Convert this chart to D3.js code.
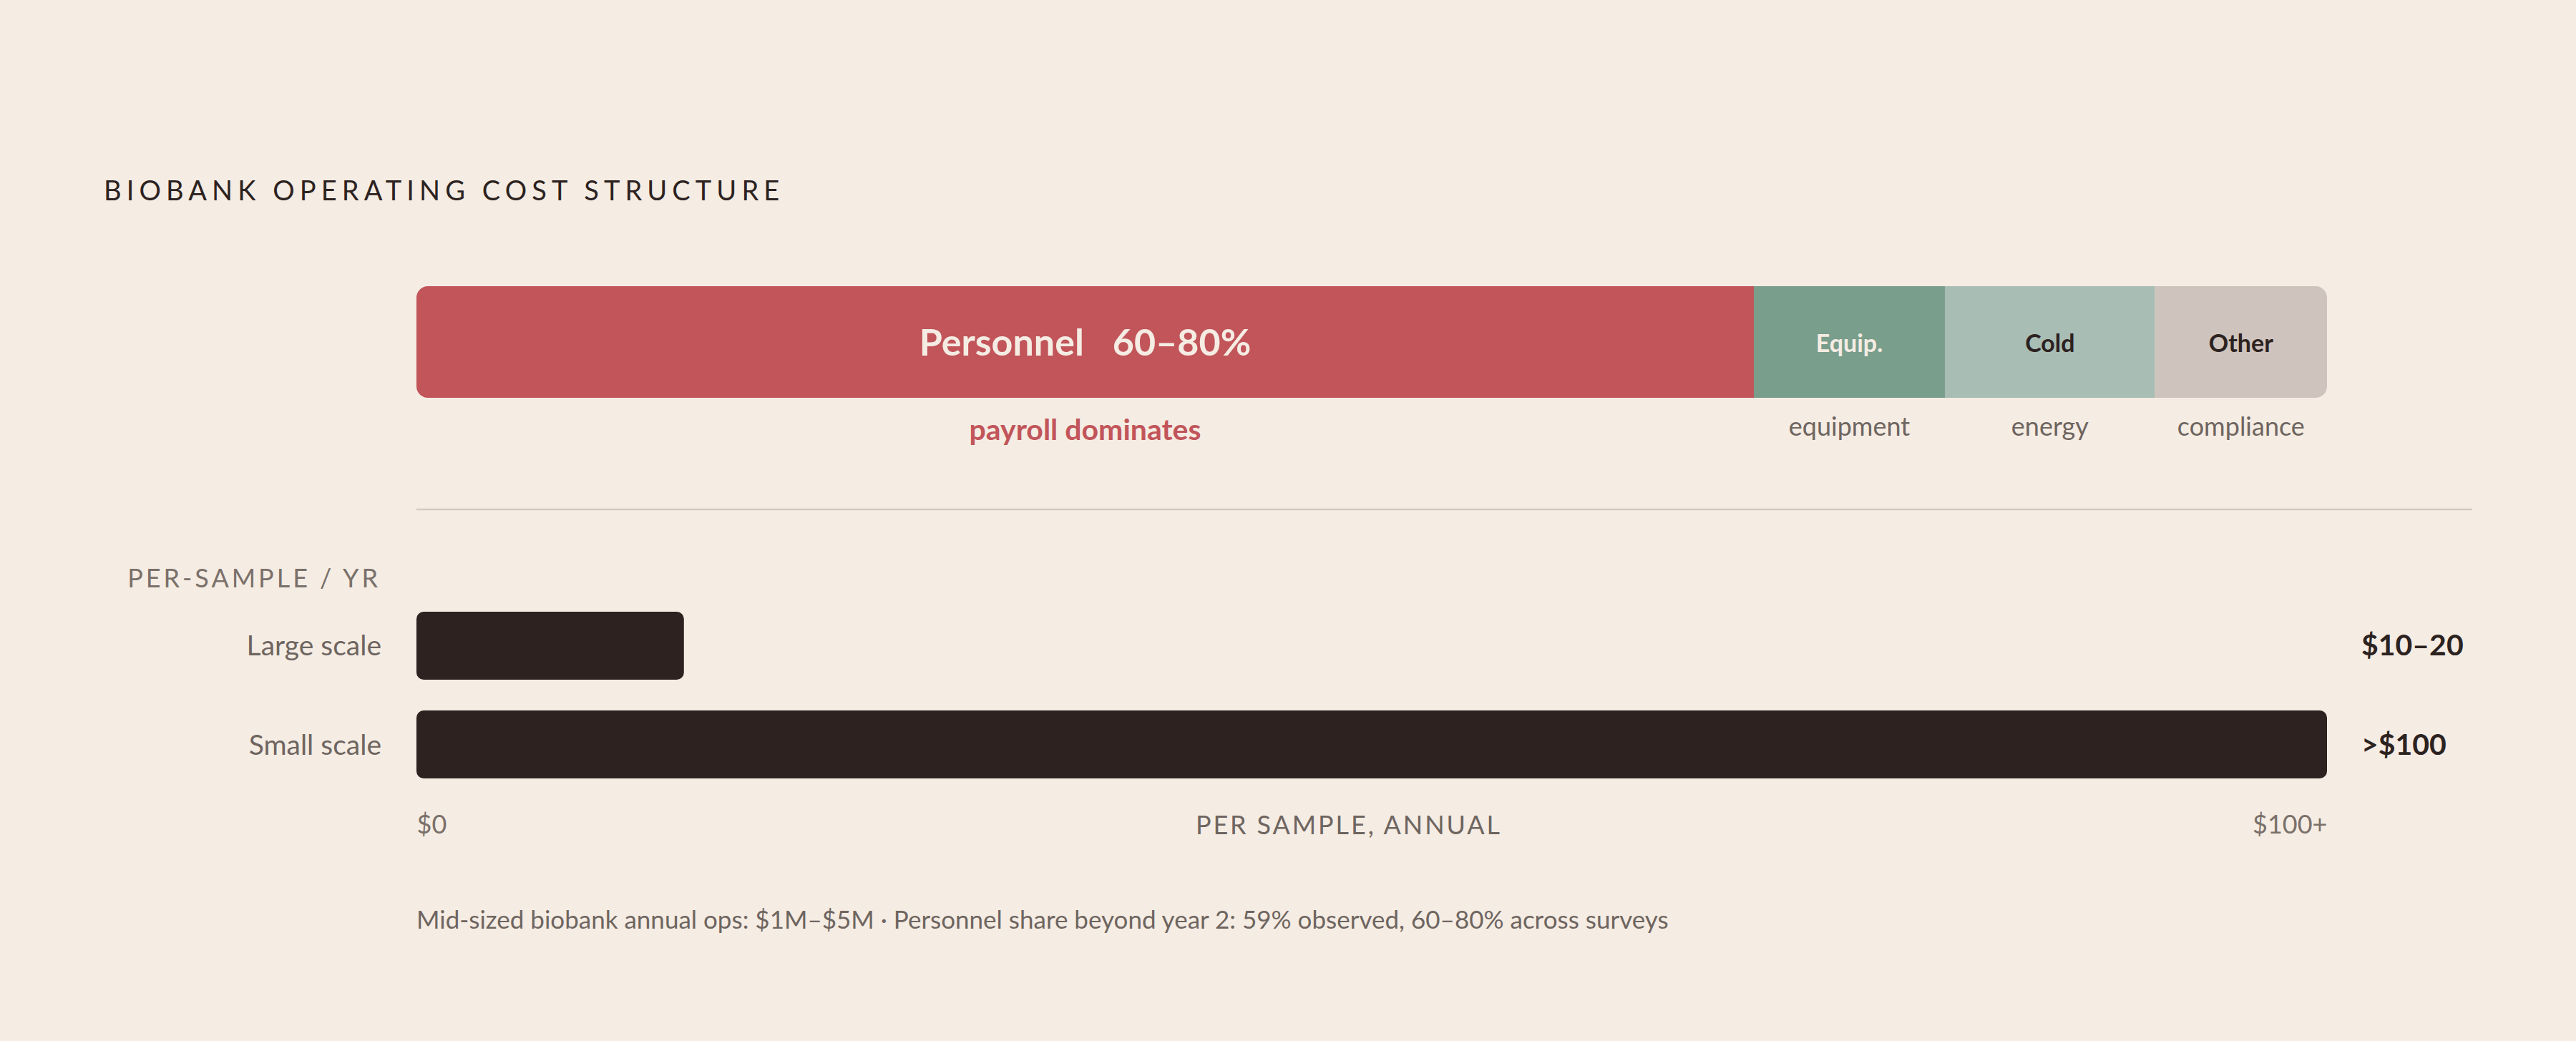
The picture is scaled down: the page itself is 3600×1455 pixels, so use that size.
<!DOCTYPE html>
<html>
<head>
<meta charset="utf-8">
<script src="https://cdn.jsdelivr.net/npm/d3@7"></script>
<style>
  html, body { margin: 0; padding: 0; background: #f5ece3; }
  svg { display: block; font-family: Lato, "Noto Sans", sans-serif; }
</style>
</head>
<body>
<div id="chart"></div>
<script>
// cost structure (share of annual operating budget, %)
var segments = ["Personnel", "Equip.", "Cold", "Other"];
var segmentShares = [70, 10, 11, 9];
var segmentRanges = ["60–80%", "", "", ""];
var segmentNotes = ["payroll dominates", "equipment", "energy", "compliance"];

// per-sample annual cost ($)
var scaleRows = ["Large scale", "Small scale"];
var perSampleCost = [14, 100];
var costLabels = ["$10–20", ">$100"];

var tickValues = [0, 100];
var tickLabels = ["$0", "$100+"];

var colors = ["#c1555a", "#7a9e8c", "#a8bdb4", "#cfc4bd"];
var labelColors = ["#f5ece3", "#f5ece3", "#2c2220", "#2c2220"];

var svgWidth = 3600;
var svgHeight = 1455;

var left = 582, right = 3252;

var svg = d3.select("#chart")
  .append("svg")
  .attr("width", svgWidth)
  .attr("height", svgHeight);

svg.append("rect")
  .attr("width", svgWidth)
  .attr("height", svgHeight)
  .attr("fill", "#f5ece3");

// title
svg.append("text")
  .attr("x", 145)
  .attr("y", 280)
  .attr("font-size", 38)
  .attr("letter-spacing", 7.1)
  .attr("fill", "#2c2220")
  .text("BIOBANK OPERATING COST STRUCTURE");

// ---- stacked share bar ----
var x = d3.scaleLinear()
  .domain([0, d3.sum(segmentShares)])
  .range([left, right]);

var stackData = [];
var acc = 0;
segments.forEach(function (s, i) {
  stackData.push({ name: s, range: segmentRanges[i], note: segmentNotes[i], x0: acc, x1: acc + segmentShares[i], i: i });
  acc += segmentShares[i];
});

var barTop = 400, barH = 156;

svg.append("clipPath")
  .attr("id", "stackClip")
  .append("rect")
  .attr("x", x(0))
  .attr("y", barTop)
  .attr("width", x(acc) - x(0))
  .attr("height", barH)
  .attr("rx", 16);

var stackG = svg.append("g").attr("clip-path", "url(#stackClip)");

stackG.selectAll("rect")
  .data(stackData)
  .enter()
  .append("rect")
  .attr("x", d => x(d.x0))
  .attr("y", barTop)
  .attr("width", d => x(d.x1) - x(d.x0))
  .attr("height", barH)
  .attr("fill", d => colors[d.i]);

var segLabels = svg.selectAll(".segLabel")
  .data(stackData)
  .enter()
  .append("text")
  .attr("class", "segLabel")
  .attr("x", d => (x(d.x0) + x(d.x1)) / 2)
  .attr("y", d => d.i === 0 ? 497 : 492)
  .attr("text-anchor", "middle")
  .attr("font-weight", 700)
  .attr("font-size", d => d.i === 0 ? 52 : 34)
  .attr("fill", d => labelColors[d.i]);

segLabels.append("tspan").text(d => d.name);
segLabels.filter(d => d.range)
  .append("tspan")
  .attr("dx", 40)
  .text(d => d.range);

svg.selectAll(".segNote")
  .data(stackData)
  .enter()
  .append("text")
  .attr("class", "segNote")
  .attr("x", d => (x(d.x0) + x(d.x1)) / 2)
  .attr("y", d => d.i === 0 ? 615 : 609)
  .attr("text-anchor", "middle")
  .attr("font-size", d => d.i === 0 ? 41 : 36)
  .attr("font-weight", d => d.i === 0 ? 700 : 400)
  .attr("fill", d => d.i === 0 ? "#c1555a" : "#6e6560")
  .text(d => d.note);

// divider
svg.append("line")
  .attr("x1", left)
  .attr("x2", 3455)
  .attr("y1", 712)
  .attr("y2", 712)
  .attr("stroke", "#d5cac0")
  .attr("stroke-width", 2.5);

// ---- per-sample cost bars ----
var xc = d3.scaleLinear()
  .domain([0, 100])
  .range([left, right]);

var y = d3.scaleBand()
  .domain(scaleRows)
  .range([855, 1088])
  .paddingInner(0.312)
  .paddingOuter(0);

svg.append("text")
  .attr("x", 532)
  .attr("y", 821)
  .attr("text-anchor", "end")
  .attr("font-size", 36)
  .attr("letter-spacing", "0.11em")
  .attr("fill", "#7a706a")
  .text("PER-SAMPLE / YR");

svg.selectAll(".costBar")
  .data(scaleRows)
  .enter()
  .append("rect")
  .attr("class", "costBar")
  .attr("x", xc(0))
  .attr("y", d => y(d))
  .attr("width", (d, i) => xc(perSampleCost[i]) - xc(0))
  .attr("height", y.bandwidth())
  .attr("rx", 10)
  .attr("fill", "#2e2220");

svg.selectAll(".rowLabel")
  .data(scaleRows)
  .enter()
  .append("text")
  .attr("class", "rowLabel")
  .attr("x", 533)
  .attr("y", d => y(d) + y.bandwidth() / 2 + 14)
  .attr("text-anchor", "end")
  .attr("font-size", 39)
  .attr("fill", "#6e6560")
  .text(d => d);

svg.selectAll(".costLabel")
  .data(scaleRows)
  .enter()
  .append("text")
  .attr("class", "costLabel")
  .attr("x", 3300)
  .attr("y", d => y(d) + y.bandwidth() / 2 + 14)
  .attr("font-size", 41)
  .attr("font-weight", 700)
  .attr("fill", "#2c2220")
  .text((d, i) => costLabels[i]);

// axis
var axis = d3.axisBottom(xc)
  .tickValues(tickValues)
  .tickSize(0)
  .tickPadding(0)
  .tickFormat((d, i) => tickLabels[i]);

var axisG = svg.append("g")
  .attr("transform", "translate(0, 1138)")
  .call(axis);

axisG.select(".domain").remove();
axisG.selectAll("text")
  .attr("font-family", "Lato, sans-serif")
  .attr("font-size", 36)
  .attr("fill", "#7a706a")
  .attr("dy", "0.75em")
  .attr("text-anchor", (d, i) => i === 0 ? "start" : "end");

svg.append("text")
  .attr("x", left + (right - left) * 0.488)
  .attr("y", 1166)
  .attr("text-anchor", "middle")
  .attr("font-size", 36)
  .attr("letter-spacing", "0.08em")
  .attr("fill", "#6e6560")
  .text("PER SAMPLE, ANNUAL");

// footnote
svg.append("text")
  .attr("x", left)
  .attr("y", 1298)
  .attr("font-size", 35)
  .attr("fill", "#6e6560")
  .text("Mid-sized biobank annual ops: $1M–$5M · Personnel share beyond year 2: 59% observed, 60–80% across surveys");
</script>
</body>
</html>
